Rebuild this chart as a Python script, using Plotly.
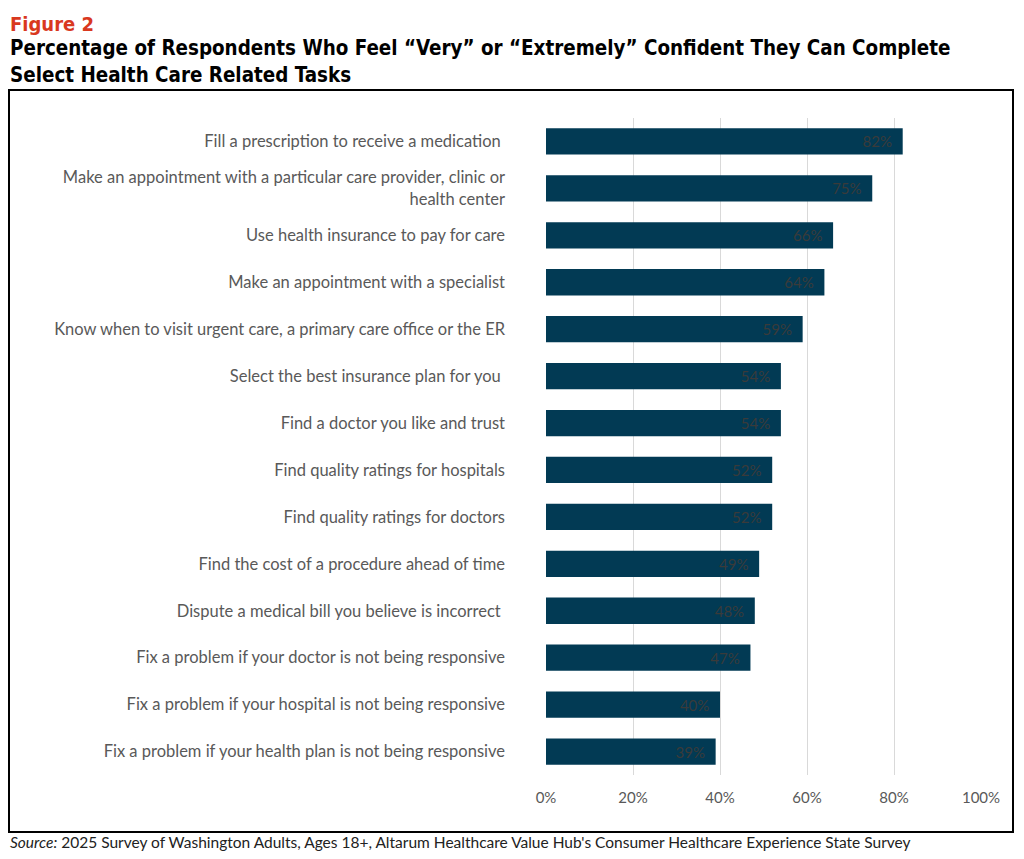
import plotly.graph_objects as go

# Dados
tarefas = [
    "Fill a prescription to receive a medication ",
    "Make an appointment with a particular care provider, clinic or<br>health center",
    "Use health insurance to pay for care",
    "Make an appointment with a specialist",
    "Know when to visit urgent care, a primary care office or the ER",
    "Select the best insurance plan for you ",
    "Find a doctor you like and trust",
    "Find quality ratings for hospitals",
    "Find quality ratings for doctors",
    "Find the cost of a procedure ahead of time",
    "Dispute a medical bill you believe is incorrect ",
    "Fix a problem if your doctor is not being responsive",
    "Fix a problem if your hospital is not being responsive",
    "Fix a problem if your health plan is not being responsive",
]
percentuais = [82, 75, 66, 64, 59, 54, 54, 52, 52, 49, 48, 47, 40, 39]
ticks_x = [0, 20, 40, 60, 80, 100]
ticks_x_txt = ["0%", "20%", "40%", "60%", "80%", "100%"]

cor_barra = "#023a54"
cor_texto = "#595959"
fonte = "Lato"
fonte_titulo = "DejaVu Sans Condensed"

# A página tem 8px de margem no body, por isso a figura é um pouco menor
W, H = 1008, 843
L, R, T, B = 538, 35, 110, 76
pw = W - L - R   # largura da área do gráfico
ph = H - T - B   # altura da área do gráfico

fig = go.Figure()
fig.add_trace(go.Bar(
    x=percentuais,
    y=tarefas,
    orientation="h",
    marker=dict(color=cor_barra, line=dict(width=0)),
    text=[f"{v}%\u00a0\u00a0" for v in percentuais],
    textposition="inside",
    insidetextanchor="end",
    textfont=dict(family=fonte, size=15, color="#3a3a3a"),
    hoverinfo="skip",
))

fig.update_layout(
    width=W,
    height=H,
    paper_bgcolor="white",
    plot_bgcolor="white",
    showlegend=False,
    bargap=0.44,
    margin=dict(l=L, r=R, t=T, b=B),
    font=dict(family=fonte, color=cor_texto),
    xaxis=dict(
        range=[0, 100],
        tickvals=ticks_x,
        ticktext=ticks_x_txt,
        showgrid=True,
        gridcolor="#d9d9d9",
        gridwidth=1,
        zeroline=False,
        showline=False,
        ticks="",
        ticklabelstandoff=12,
        tickfont=dict(family=fonte, size=15, color=cor_texto),
        fixedrange=True,
    ),
    yaxis=dict(
        autorange="reversed",
        showgrid=False,
        zeroline=False,
        showline=False,
        ticks="",
        ticklabelstandoff=40,
        tickfont=dict(family=fonte, size=16.5, color=cor_texto),
        fixedrange=True,
    ),
)

# Moldura do gráfico
fig.add_shape(
    type="rect", xref="paper", yref="paper",
    x0=-(L - 1) / pw, x1=1 + (R - 3) / pw,
    y0=-(B - 19) / ph, y1=1 + 28 / ph,
    line=dict(color="black", width=2),
)

# Títulos e fonte
fig.add_annotation(
    text="Figure 2", xref="paper", yref="paper",
    x=-L / pw, y=1 + (T - 2) / ph, xanchor="left", yanchor="top",
    showarrow=False, font=dict(family=fonte_titulo, size=20, color="#d9381e", weight="bold"),
)
fig.add_annotation(
    text="Percentage of Respondents Who Feel “Very” or “Extremely” Confident They Can Complete<br>Select Health Care Related Tasks",
    xref="paper", yref="paper", align="left",
    x=-L / pw, y=1 + 29 / ph, xanchor="left", yanchor="bottom",
    showarrow=False, font=dict(family=fonte_titulo, size=20.4, color="black", weight="bold"),
)
fig.add_annotation(
    text="<i>Source:</i> 2025 Survey of Washington Adults, Ages 18+, Altarum Healthcare Value Hub's Consumer Healthcare Experience State Survey",
    xref="paper", yref="paper",
    x=-L / pw, y=-(B - 9) / ph, xanchor="left", yanchor="middle",
    showarrow=False, font=dict(family=fonte, size=15.5, color="#222222"),
)

fig.write_html("out.html")
